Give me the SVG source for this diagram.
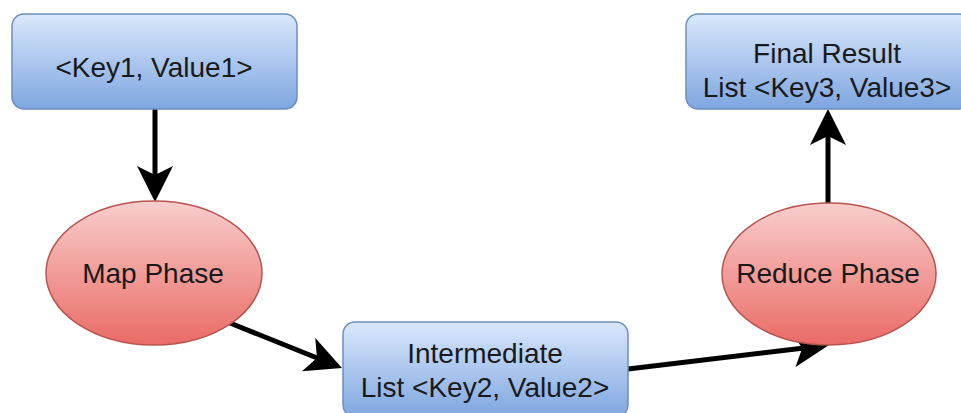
<svg xmlns="http://www.w3.org/2000/svg" width="961" height="413" viewBox="0 0 961 413">
<defs>
<linearGradient id="gBlue" x1="0" y1="0" x2="0" y2="1"><stop offset="0" stop-color="#dae8fc"/><stop offset="1" stop-color="#7ea6e0"/></linearGradient>
<linearGradient id="gRed" x1="0" y1="0" x2="0" y2="1"><stop offset="0" stop-color="#f8cecc"/><stop offset="1" stop-color="#ea6b66"/></linearGradient>
<marker id="arr" markerUnits="userSpaceOnUse" markerWidth="36" markerHeight="36" viewBox="0 0 36 36" refX="26" refY="18" orient="auto"><path d="M0,0 L36,18 L0,36 L9,18 Z" fill="#000"/></marker>
<style>
.box{fill:url(#gBlue);stroke:#6c8ebf;stroke-width:1.5}
.ell{fill:url(#gRed);stroke:#b85450;stroke-width:1.5}
.t{font-family:"Liberation Sans",Arial,sans-serif;font-size:28px;fill:#1a1a1a;text-anchor:middle}
.c{fill:none;stroke:#000;stroke-width:5;marker-end:url(#arr)}
</style>
</defs>
<g id="connectors">
<path class="c" d="M155,108 L155,192"/>
<path class="c" d="M230,323 L332.7,364.3"/>
<path class="c" d="M628,369 L819.1,346.2"/>
<path class="c" d="M828,203 L828,119"/>
</g>
<g id="key1">
<rect class="box" x="12" y="14" width="285" height="95" rx="12"/>
<text class="t" x="154" y="77">&lt;Key1, Value1&gt;</text>
</g>
<g id="map">
<ellipse class="ell" cx="154" cy="273" rx="108" ry="72"/>
<text class="t" x="153" y="283">Map Phase</text>
</g>
<g id="intermediate">
<rect class="box" x="343" y="322" width="285" height="95" rx="12"/>
<text class="t" x="485" y="363">Intermediate</text>
<text class="t" x="485" y="397">List &lt;Key2, Value2&gt;</text>
</g>
<g id="reduce">
<ellipse class="ell" cx="829" cy="274" rx="107" ry="71"/>
<text class="t" x="828" y="283">Reduce Phase</text>
</g>
<g id="final">
<rect class="box" x="686" y="14" width="285" height="95" rx="12"/>
<text class="t" x="827" y="63">Final Result</text>
<text class="t" x="827" y="97">List &lt;Key3, Value3&gt;</text>
</g>
</svg>
